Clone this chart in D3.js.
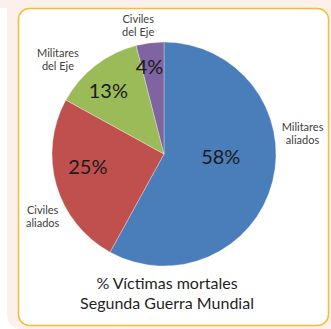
<!DOCTYPE html>
<html>
<head>
<meta charset="utf-8">
<script src="https://cdn.jsdelivr.net/npm/d3@7"></script>
<style>
  html, body { margin: 0; padding: 0; background: #ffffff; }
  svg { display: block; }
  text { font-family: Lato, "Open Sans", "DejaVu Sans", sans-serif; }
</style>
</head>
<body>
<script>
// WWII death toll shares
const categories = ["Militares aliados", "Civiles aliados", "Militares del Eje", "Civiles del Eje"];
const categoryLines = [["Militares", "aliados"], ["Civiles", "aliados"], ["Militares", "del Eje"], ["Civiles", "del Eje"]];
const values = [58, 25, 13, 4];
const colors = ["#4a7ebb", "#c0504d", "#9bbb59", "#8064a2"];
const titleLines = ["% Víctimas mortales", "Segunda Guerra Mundial"];

const W = 331, H = 329;
const cx = 164, cy = 154, R = 112;

// Label placement tweaks (px) relative to the computed anchor on each slice
const pctNudge = [[-17, -17], [-3, -9], [-9, -4], [-5, -12]];
const catNudge = [[1, -56], [15, 22], [-19, 17], [-8, 12]];

const svg = d3.select("body").append("svg").attr("width", W).attr("height", H);

// Backdrop and framed card
svg.append("rect").attr("x", 0).attr("y", 0).attr("width", W).attr("height", 8).attr("fill", "#fcf0ea");
svg.append("rect").attr("x", 7).attr("y", -20).attr("width", 360).attr("height", 349)
  .attr("rx", 14).attr("fill", "#fcf0ea");
svg.append("rect").attr("x", 18.5).attr("y", 8.5).attr("width", 310).attr("height", 317)
  .attr("rx", 11).attr("fill", "#ffffff").attr("stroke", "#f7bb3a").attr("stroke-width", 1.5);

const pie = d3.pie().value(d => d).sort(null);
const arcs = pie(values);
const arc = d3.arc().innerRadius(0).outerRadius(R);
const pctArc = d3.arc().innerRadius(R * 0.68).outerRadius(R * 0.68);
const catArc = d3.arc().innerRadius(R + 30).outerRadius(R + 30);

const g = svg.append("g").attr("transform", `translate(${cx},${cy})`);

g.selectAll("path.slice").data(arcs).join("path")
  .attr("class", "slice")
  .attr("d", arc)
  .attr("fill", (d, i) => colors[i])
  .attr("stroke", "#ffffff")
  .attr("stroke-opacity", 0.5)
  .attr("stroke-width", 0.6);

// Percentage labels inside the slices
g.selectAll("text.pct").data(arcs).join("text")
  .attr("class", "pct")
  .attr("transform", (d, i) => {
    const [x, y] = pctArc.centroid(d);
    return `translate(${x + pctNudge[i][0]},${y + pctNudge[i][1]})`;
  })
  .attr("text-anchor", "middle")
  .attr("dominant-baseline", "central")
  .attr("font-size", 20)
  .attr("fill", "#1a1a1a")
  .text(d => d.data + "%");

// Category labels outside the pie
const cat = g.selectAll("text.cat").data(arcs).join("text")
  .attr("class", "cat")
  .attr("transform", (d, i) => {
    const [x, y] = catArc.centroid(d);
    return `translate(${x + catNudge[i][0]},${y + catNudge[i][1]})`;
  })
  .attr("text-anchor", "middle")
  .attr("font-size", 11)
  .attr("fill", "#404040");
cat.selectAll("tspan").data((d, i) => categoryLines[i].map((t, k) => ({ t, k }))).join("tspan")
  .attr("x", 0)
  .attr("y", d => (d.k - 0.5) * 13)
  .attr("dominant-baseline", "central")
  .text(d => d.t);

// Title below the pie
svg.append("text")
  .attr("x", 167).attr("text-anchor", "middle")
  .attr("font-size", 16).attr("fill", "#1f1f1f")
  .selectAll("tspan").data(titleLines).join("tspan")
  .attr("x", 167)
  .attr("y", (d, i) => 282 + i * 20)
  .attr("dominant-baseline", "central")
  .text(d => d);
</script>
</body>
</html>
